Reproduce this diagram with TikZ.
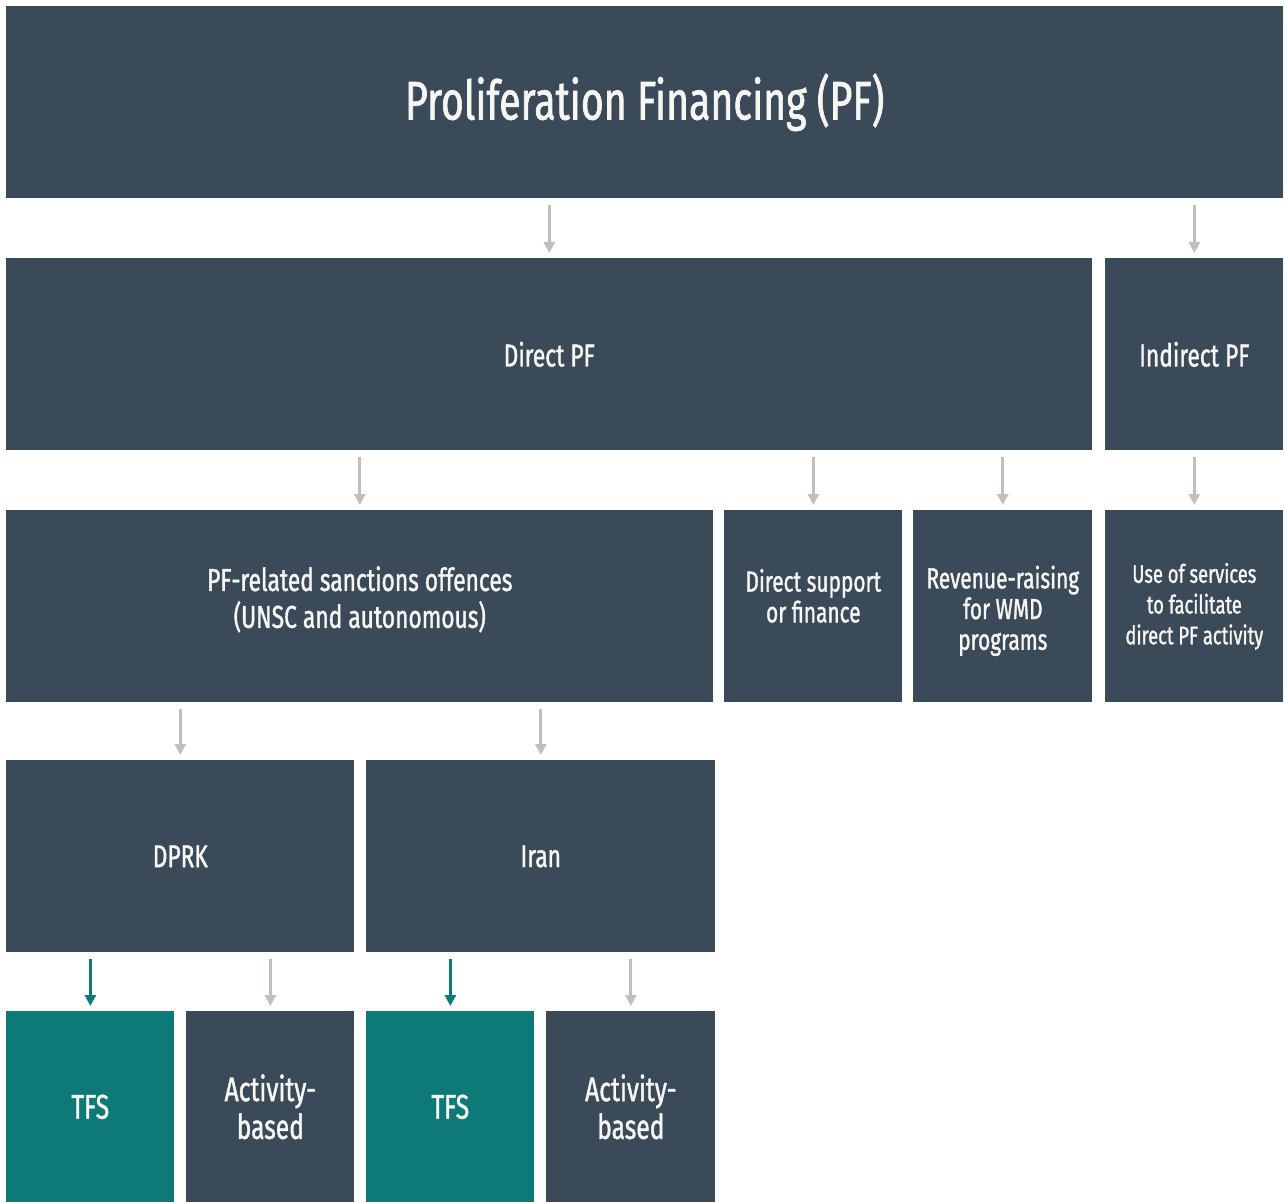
\documentclass[tikz,border=0pt]{standalone}
\usepackage{fontspec}
\setmainfont{Fira Sans}[FakeStretch=0.72,FakeBold=1.2]
\usetikzlibrary{arrows.meta,positioning,calc}
\definecolor{slate}{HTML}{3A4A59}
\definecolor{pfteal}{HTML}{0E7A78}
\definecolor{pfgray}{HTML}{C4BEB8}
\definecolor{pfwhite}{HTML}{F7F6F2}

\begin{document}
\begin{tikzpicture}[x=0.02cm,y=-0.02cm,
    box/.style={fill=slate,text=pfwhite,anchor=north west,inner sep=0pt,
      minimum height=3.84cm,align=center,font=\fontsize{18}{21}\selectfont},
    small/.style={box,font=\fontsize{16.5}{17.5}\selectfont},
    leaf/.style={box,minimum height=3.82cm,font=\fontsize{19.5}{21.5}\selectfont},
    tfs/.style={leaf,fill=pfteal},
    arr/.style={draw=pfgray,line width=1.7pt,-{Triangle[width=0.22cm,length=0.22cm]},
      shorten <=6*0.02cm,shorten >=5*0.02cm},
    tarr/.style={arr,draw=pfteal}]
    \useasboundingbox (0,0) rectangle (1285,1202);
    % level 0
    \node[box,minimum width=25.54cm,font=\fontsize{31}{36}\selectfont] (pf) at (6,6) {Proliferation Financing (PF)};
    % level 1
    \node[box,minimum width=21.72cm] (direct) at (6,258) {Direct PF};
    \node[box,minimum width=3.56cm] (indirect) at (1105,258) {Indirect PF};
    % level 2 (text nudged to sit as in the layout)
    \node[box,minimum width=14.14cm] (offences) at (6,510) {};
    \node at ([yshift=0.14cm]offences.center) [text=pfwhite,align=center,font=\fontsize{18}{21}\selectfont] {PF-related sanctions offences\\(UNSC and autonomous)};
    \node[small,minimum width=3.56cm] (support) at (724,510) {};
    \node at ([yshift=0.21cm]support.center) [text=pfwhite,align=center,font=\fontsize{16.5}{17.5}\selectfont] {Direct support\\or finance};
    \node[small,minimum width=3.58cm] (revenue) at (913,510) {};
    \node at ([yshift=-0.09cm]revenue.center) [text=pfwhite,align=center,font=\fontsize{16.5}{17.5}\selectfont] {Revenue-raising\\for WMD\\programs};
    \node[small,minimum width=3.56cm,font=\fontsize{14.5}{17.5}\selectfont] (services) at (1105,510) {Use of services\\to facilitate\\direct PF activity};
    % level 3
    \node[box,minimum width=6.96cm] (dprk) at (6,760) {DPRK};
    \node[box,minimum width=6.98cm] (iran) at (366,760) {Iran};
    % level 4
    \node[tfs,minimum width=3.36cm] (dtfs) at (6,1011) {TFS};
    \node[leaf,minimum width=3.36cm] (dact) at (186,1011) {Activity-\\based};
    \node[tfs,minimum width=3.36cm] (itfs) at (366,1011) {TFS};
    \node[leaf,minimum width=3.38cm] (iact) at (546,1011) {Activity-\\based};
    % arrows
    \draw[arr] (pf.south -| direct.north) -- (direct.north);
    \draw[arr] (pf.south -| indirect.north) -- (indirect.north);
    \draw[arr] (direct.south -| offences.north) -- (offences.north);
    \draw[arr] (direct.south -| support.north) -- (support.north);
    \draw[arr] (direct.south -| revenue.north) -- (revenue.north);
    \draw[arr] (indirect.south -| services.north) -- (services.north);
    \draw[arr] (offences.south -| dprk.north) -- (dprk.north);
    \draw[arr] (offences.south -| iran.north) -- (iran.north);
    \draw[tarr] (dprk.south -| dtfs.north) -- (dtfs.north);
    \draw[arr] (dprk.south -| dact.north) -- (dact.north);
    \draw[tarr] (iran.south -| itfs.north) -- (itfs.north);
    \draw[arr] (iran.south -| iact.north) -- (iact.north);
\end{tikzpicture}
\end{document}
